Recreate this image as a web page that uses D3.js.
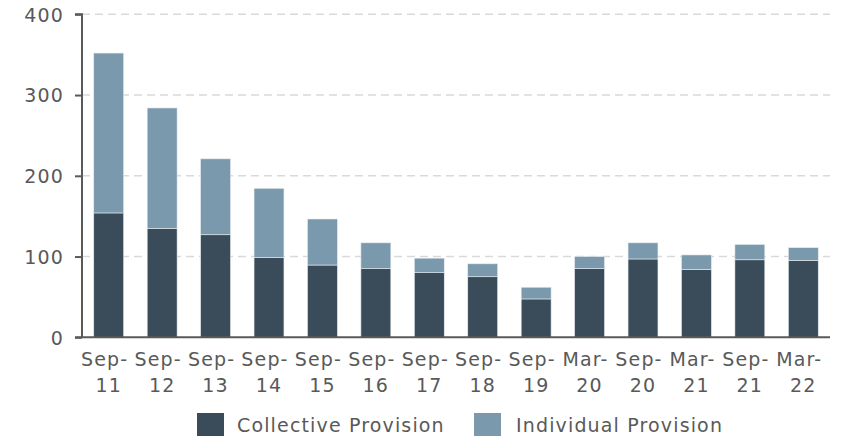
<!DOCTYPE html>
<html><head><meta charset="utf-8">
<script src="https://cdn.jsdelivr.net/npm/d3@7"></script>
<style>body{margin:0;background:#fff}svg{display:block}text{font-family:"DejaVu Sans",Verdana,sans-serif;fill:#595959;letter-spacing:1.15px}</style>
</head><body><svg id="c" width="848" height="441"></svg>
<script>
const categories = ["Sep-11","Sep-12","Sep-13","Sep-14","Sep-15","Sep-16","Sep-17","Sep-18","Sep-19","Mar-20","Sep-20","Mar-21","Sep-21","Mar-22"];
const collective = [154,135,127,99,89.5,85,80,75,47.5,85,97,84,96,95];
const individual = [198,149,94,85.5,57,32,18,16,14.5,15,20,18,19,16];
const yTicks = [0,100,200,300,400];
const seriesNames = ["Collective Provision","Individual Provision"];
const colors = ["#3a4b5a","#7a99ad"];

const svg = d3.select("#c");
const m = {l:82, r:830, t:14.3, b:337.3};
const x = d3.scaleBand().domain(categories).range([m.l, m.r]).paddingInner(0.44).paddingOuter(0.22);
const y = d3.scaleLinear().domain([0,400]).range([m.b, m.t]);
const fs = "19px";

// gridlines
svg.append("g").selectAll("line").data(yTicks.filter(d=>d>0)).join("line")
  .attr("x1", m.l).attr("x2", m.r).attr("y1", d=>y(d)).attr("y2", d=>y(d))
  .attr("stroke","#d9d9d9").attr("stroke-width",1.5).attr("stroke-dasharray","8,5");

const data = categories.map((c,i)=>({cat:c, Collective:collective[i], Individual:individual[i]}));
const stack = d3.stack().keys(["Collective","Individual"])(data);
svg.append("g").selectAll("g").data(stack).join("g").attr("fill",(d,i)=>colors[i])
  .selectAll("rect").data(d=>d).join("rect")
  .attr("x", d=>x(d.data.cat)).attr("width", x.bandwidth())
  .attr("y", d=>y(d[1])).attr("height", d=>y(d[0])-y(d[1]))
  .attr("stroke","#e6ecf0").attr("stroke-width",0.6);

// y axis
const ya = svg.append("g").attr("transform",`translate(${m.l},0)`)
  .call(d3.axisLeft(y).tickValues(yTicks).tickSize(7).tickPadding(11));
ya.select(".domain").attr("stroke","#595959").attr("stroke-width",2).attr("d",`M-7,${m.t}H0V${m.b}`);
ya.selectAll(".tick line").attr("stroke","#595959").attr("stroke-width",2);
ya.selectAll(".tick text").style("font-size",fs).style("font-family",'"DejaVu Sans",Verdana,sans-serif').attr("fill","#595959").attr("dy","0.36em");

// x axis baseline
svg.append("line").attr("x1",m.l-7).attr("x2",m.r).attr("y1",m.b).attr("y2",m.b)
  .attr("stroke","#595959").attr("stroke-width",2);

// x labels
const xl = svg.append("g").selectAll("text").data(categories).join("text")
  .attr("text-anchor","middle").style("font-size",fs);
xl.append("tspan").attr("x", d=>x(d)+x.bandwidth()/2-4).attr("y",366).text(d=>d.split("-")[0]+"-");
xl.append("tspan").attr("x", d=>x(d)+x.bandwidth()/2).attr("y",392).text(d=>d.split("-")[1]);

// legend
const lx = [197, 474];
const tx = [40, 42];
const lg = svg.append("g").selectAll("g").data(seriesNames).join("g")
  .attr("transform",(d,i)=>`translate(${lx[i]},413)`);
lg.append("rect").attr("width",27).attr("height",23).attr("fill",(d,i)=>colors[i]);
lg.append("text").attr("x",(d,i)=>tx[i]).attr("y",19).style("font-size",fs).text(d=>d);
</script></body></html>
